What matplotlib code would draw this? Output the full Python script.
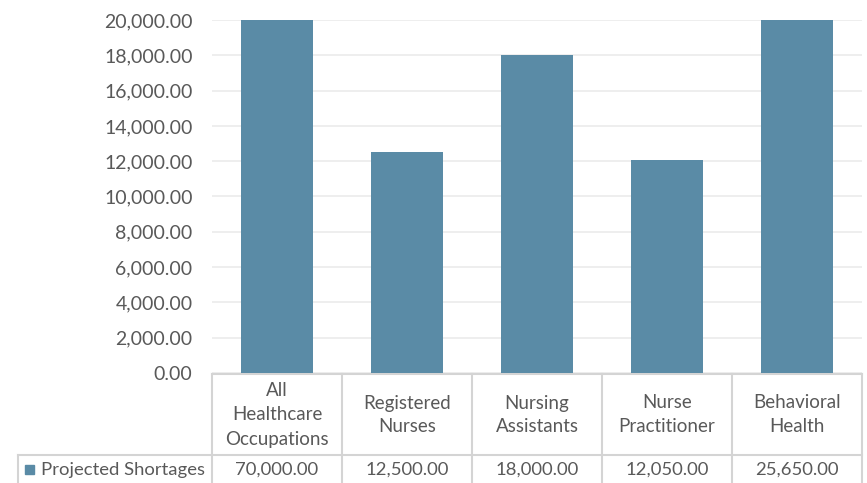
import numpy as np
from matplotlib import pyplot as plt
import matplotlib.transforms as mtransforms

categories = ["All\nHealthcare\nOccupations", "Registered\nNurses", "Nursing\nAssistants",
              "Nurse\nPractitioner", "Behavioral\nHealth"]
values = [70000.00, 12500.00, 18000.00, 12050.00, 25650.00]
series_name = "Projected Shortages"
y_ticks = np.arange(0, 20001, 2000)

bar_color = "#5a8ba6"
text_color = "#595959"
line_color = "#d4d4d4"

plt.rcParams['font.family'] = ['Lato', 'DejaVu Sans']

fig = plt.figure(figsize=(8.67, 4.83), dpi=100)
W, H = 867, 483
ax = fig.add_axes([212 / W, 1 - 373 / H, 650 / W, 353 / H])

x = np.arange(len(categories))
ax.bar(x, values, width=0.554, color=bar_color, zorder=3)
ax.set_xlim(-0.5, len(categories) - 0.5)
ax.set_ylim(0, 20000)
ax.set_yticks(y_ticks)
ax.set_yticklabels([f"{v:,.2f}" for v in y_ticks], fontsize=14, color=text_color)
ax.tick_params(axis='y', length=0, pad=14)
ax.set_xticks([])
ax.grid(axis='y', color='#ebebeb', linewidth=1.2, zorder=0)
for s in ax.spines.values():
    s.set_visible(False)

# data table below the plot, in data-x / pixel-y coordinates
px = mtransforms.blended_transform_factory(ax.transData, fig.transFigure)
def fy(p):
    return 1 - p / H

row_top, row_mid, row_bot = 374, 455, 490
edges = np.arange(len(categories) + 1) - 0.5
ax.plot([edges[0], edges[-1]], [fy(row_top)] * 2, transform=px, color=line_color, lw=1.5, clip_on=False)
for e in edges:
    ax.plot([e, e], [fy(row_top), fy(row_bot)], transform=px, color=line_color, lw=1.5, clip_on=False)
fig.add_artist(plt.Line2D([18 / W, 862 / W], [fy(row_mid)] * 2, color=line_color, lw=1.5))
fig.add_artist(plt.Line2D([18 / W, 18 / W], [fy(row_mid), fy(row_bot)], color=line_color, lw=1.5))

for i, (c, v) in enumerate(zip(categories, values)):
    ax.text(i, fy((row_top + row_mid) / 2 + 0.5), c, transform=px, ha='center', va='center',
            fontsize=13.5, color=text_color, linespacing=1.5)
    ax.text(i, fy(470), f"{v:,.2f}", transform=px, ha='center', va='center',
            fontsize=13.3, color=text_color)

fig.add_artist(plt.Rectangle((25 / W, fy(474)), 9 / W, 9 / H, color=bar_color))
fig.text(41 / W, fy(470), series_name, ha='left', va='center', fontsize=13.3, color=text_color)

fig.savefig("out.png", dpi=100)
